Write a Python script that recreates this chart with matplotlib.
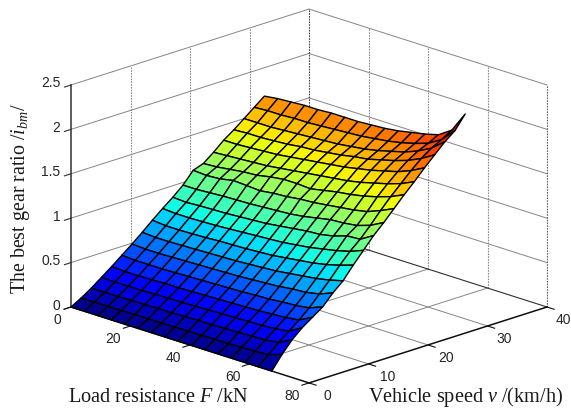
import numpy as np
import matplotlib
matplotlib.use('Agg')
import matplotlib.pyplot as plt
from mpl_toolkits.mplot3d import proj3d

# Load resistance F /kN, vehicle speed v /(km/h)
F = [0, 4.5, 9, 13.5, 18, 22.5, 27, 31.5, 36, 40.5, 45, 49.5, 54, 58.5, 63, 67.5]
v = [0, 1.71, 3.42, 5.13, 6.84, 8.55, 10.26, 11.97, 13.68, 15.39, 17.11, 18.82, 20.53, 22.24, 23.95, 25.66, 27.37, 29.08, 30.79, 32.5]

# best gear ratio, one row per speed
ratio = [
    [0.00, 0.00, 0.00, 0.00, 0.00, 0.00, 0.00, 0.00, 0.00, 0.00, 0.00, 0.00, 0.00, 0.00, 0.00, 0.00],
    [0.065, 0.066, 0.067, 0.068, 0.07, 0.07, 0.072, 0.074, 0.075, 0.077, 0.08, 0.08, 0.085, 0.09, 0.10, 0.15],
    [0.14, 0.14, 0.14, 0.145, 0.145, 0.15, 0.15, 0.155, 0.16, 0.16, 0.165, 0.17, 0.175, 0.18, 0.20, 0.28],
    [0.225, 0.22, 0.22, 0.22, 0.225, 0.23, 0.23, 0.235, 0.24, 0.245, 0.25, 0.255, 0.26, 0.27, 0.29, 0.38],
    [0.31, 0.30, 0.30, 0.305, 0.31, 0.31, 0.315, 0.32, 0.325, 0.33, 0.335, 0.34, 0.35, 0.36, 0.38, 0.46],
    [0.40, 0.39, 0.39, 0.39, 0.395, 0.40, 0.405, 0.41, 0.415, 0.42, 0.43, 0.435, 0.45, 0.46, 0.48, 0.54],
    [0.49, 0.48, 0.48, 0.485, 0.49, 0.495, 0.50, 0.505, 0.51, 0.52, 0.53, 0.54, 0.56, 0.57, 0.60, 0.66],
    [0.585, 0.575, 0.575, 0.58, 0.585, 0.59, 0.595, 0.60, 0.61, 0.62, 0.63, 0.65, 0.67, 0.69, 0.72, 0.76],
    [0.685, 0.67, 0.67, 0.675, 0.68, 0.69, 0.695, 0.70, 0.71, 0.72, 0.74, 0.76, 0.78, 0.81, 0.85, 0.90],
    [0.78, 0.77, 0.77, 0.775, 0.78, 0.79, 0.80, 0.81, 0.82, 0.83, 0.85, 0.87, 0.90, 0.93, 0.97, 1.03],
    [0.87, 0.86, 0.87, 0.875, 0.88, 0.89, 0.90, 0.91, 0.93, 0.95, 0.97, 0.98, 1.01, 1.06, 1.07, 1.16],
    [0.97, 0.97, 0.98, 0.99, 0.995, 1.00, 1.01, 1.02, 1.03, 1.05, 1.08, 1.11, 1.12, 1.14, 1.19, 1.27],
    [1.10, 1.09, 1.10, 1.13, 1.12, 1.11, 1.13, 1.14, 1.16, 1.17, 1.19, 1.21, 1.23, 1.26, 1.32, 1.39],
    [1.14, 1.15, 1.17, 1.19, 1.20, 1.23, 1.25, 1.25, 1.24, 1.27, 1.30, 1.32, 1.35, 1.39, 1.44, 1.51],
    [1.23, 1.24, 1.25, 1.26, 1.27, 1.29, 1.31, 1.33, 1.35, 1.37, 1.39, 1.42, 1.46, 1.50, 1.55, 1.62],
    [1.33, 1.33, 1.34, 1.35, 1.36, 1.38, 1.40, 1.42, 1.44, 1.46, 1.49, 1.52, 1.56, 1.60, 1.66, 1.74],
    [1.41, 1.42, 1.42, 1.43, 1.44, 1.46, 1.47, 1.49, 1.51, 1.54, 1.56, 1.60, 1.64, 1.69, 1.76, 1.85],
    [1.50, 1.50, 1.50, 1.51, 1.52, 1.53, 1.54, 1.55, 1.57, 1.59, 1.62, 1.66, 1.70, 1.76, 1.84, 1.96],
    [1.59, 1.60, 1.60, 1.61, 1.61, 1.62, 1.63, 1.64, 1.65, 1.67, 1.69, 1.72, 1.76, 1.81, 1.90, 2.05],
    [1.68, 1.70, 1.71, 1.72, 1.72, 1.73, 1.73, 1.73, 1.74, 1.75, 1.77, 1.80, 1.83, 1.87, 1.97, 2.20],
]

F_ticks = [0, 20, 40, 60, 80]
v_ticks = [0, 10, 20, 30, 40]
z_ticks = [0, 0.5, 1, 1.5, 2, 2.5]
z_labels = ['0', '0.5', '1', '1.5', '2', '2.5']

plt.rcParams['font.family'] = 'Liberation Sans'
plt.rcParams['mathtext.fontset'] = 'custom'
plt.rcParams['mathtext.rm'] = 'Liberation Serif'
plt.rcParams['mathtext.it'] = 'Liberation Serif:italic'

W, H = 571, 412
BOX = 900  # axes square in pixels, bigger than the figure so nothing gets clipped
fig = plt.figure(figsize=(W / 100, H / 100), dpi=100)
ax = fig.add_axes([(W - BOX) / 2 / W, (H - BOX) / 2 / H, BOX / W, BOX / H],
                  projection='3d', proj_type='ortho', computed_zorder=False)
ax.view_init(elev=18.6, azim=-45)
ax.set_xlim(0, 80, view_margin=0)
ax.set_ylim(0, 40, view_margin=0)
ax.set_zlim(0, 2.5, view_margin=0)
ax.set_axis_off()
ax.patch.set_alpha(0)


def to_pixels(x, y, z):
    px, py, _ = proj3d.proj_transform(x, y, z, ax.get_proj())
    return ax.transData.transform((px, py))


# fit the box onto the corners seen in the picture
aspect = (1, 1, 0.696)
ax.set_box_aspect(aspect, zoom=1)
fig.canvas.draw()
span = to_pixels(80, 40, 0)[0] - to_pixels(0, 0, 0)[0]
ax.set_box_aspect(aspect, zoom=(547 - 71) / span)
fig.canvas.draw()
left = to_pixels(0, 0, 0)
pos = ax.get_position()
ax.set_position([pos.x0 + (71 - left[0]) / W, pos.y0 + ((H - 307) - left[1]) / H, pos.width, pos.height])
fig.canvas.draw()


def label(x, y, z, dx, dy, s, ha='center'):
    p = to_pixels(x, y, z)
    fig.text((p[0] + dx) / W, (p[1] - dy) / H, s, ha=ha, va='center', fontsize=10, color='#262626')


grid = dict(color='#858585', lw=0.7, zorder=1)
dots = dict(color='#8c8c8c', lw=0.8, ls=(0, (1.5, 1)), zorder=1)

# walls and floor
for z in z_ticks[1:]:
    ax.plot([0, 0], [0, 40], [z, z], **grid)
    ax.plot([0, 80], [40, 40], [z, z], **grid)
for t in v_ticks[1:-1]:
    ax.plot([0, 0], [t, t], [0, 2.5], **dots)
    ax.plot([0, 80], [t, t], [0, 0], **grid)
for t in F_ticks[1:-1]:
    ax.plot([t, t], [40, 40], [0, 2.5], **dots)
    ax.plot([t, t], [0, 40], [0, 0], **grid)
ax.plot([0, 80], [40, 40], [0, 0], color='#303030', lw=0.8, zorder=1)
ax.plot([0, 0], [0, 40], [0, 0], color='#707070', lw=0.7, zorder=1)
ax.plot([0, 0], [40, 40], [0, 2.5], color='#404040', lw=0.8, ls=(0, (1.5, 1)), zorder=1)
ax.plot([80, 80], [40, 40], [0, 2.5], color='#606060', lw=0.8, ls=(0, (1.5, 1)), zorder=1)

# axes lines and ticks
ax.plot([0, 0], [0, 0], [0, 2.5], color='#303030', lw=1.1, zorder=1)
ax.plot([0, 80], [0, 0], [0, 0], color='#101010', lw=1.1, zorder=1)
ax.plot([80, 80], [0, 40], [0, 0], color='#101010', lw=1.1, zorder=1)
for z, lab in zip(z_ticks, z_labels):
    ax.plot([0, 0], [0, -1.1], [z, z], color='#303030', lw=0.8, zorder=1)
    label(0, 0, z, -10.5, -1.5, lab, ha='right')
for t, dx in zip(F_ticks, [-14, -17, -17, -17, -17]):
    ax.plot([t, t], [0, -1.2], [0, 0], color='#101010', lw=0.8, zorder=1)
    label(t, 0, 0, dx, 13, str(t))
for t, dx in zip(v_ticks, [18, 19, 18, 17, 16]):
    ax.plot([80, 82.4], [t, t], [0, 0], color='#101010', lw=0.8, zorder=1)
    label(80, t, 0, dx, 13, str(t))

FF, VV = np.meshgrid(F, v)
ax.plot_surface(FF, VV, np.array(ratio), rstride=1, cstride=1, cmap='jet', vmin=0, vmax=2.2,
                edgecolor='#000000', linewidth=1.0, shade=False, antialiased=True, zorder=3)

fig.text(158 / W, 1 - 398 / H, 'Load resistance $F$ /kN', ha='center', va='center',
         family='Liberation Serif', fontsize=14.6, color='#1a1a1a')
fig.text(466 / W, 1 - 397 / H, 'Vehicle speed $v$ /(km/h)', ha='center', va='center',
         family='Liberation Serif', fontsize=14.6, color='#1a1a1a')
fig.text(21 / W, 1 - 199 / H, 'The best gear ratio /$i_{bm}$/', ha='center', va='center', rotation=90,
         family='Liberation Serif', fontsize=14.4, color='#1a1a1a')

fig.savefig('out.png', dpi=100)
